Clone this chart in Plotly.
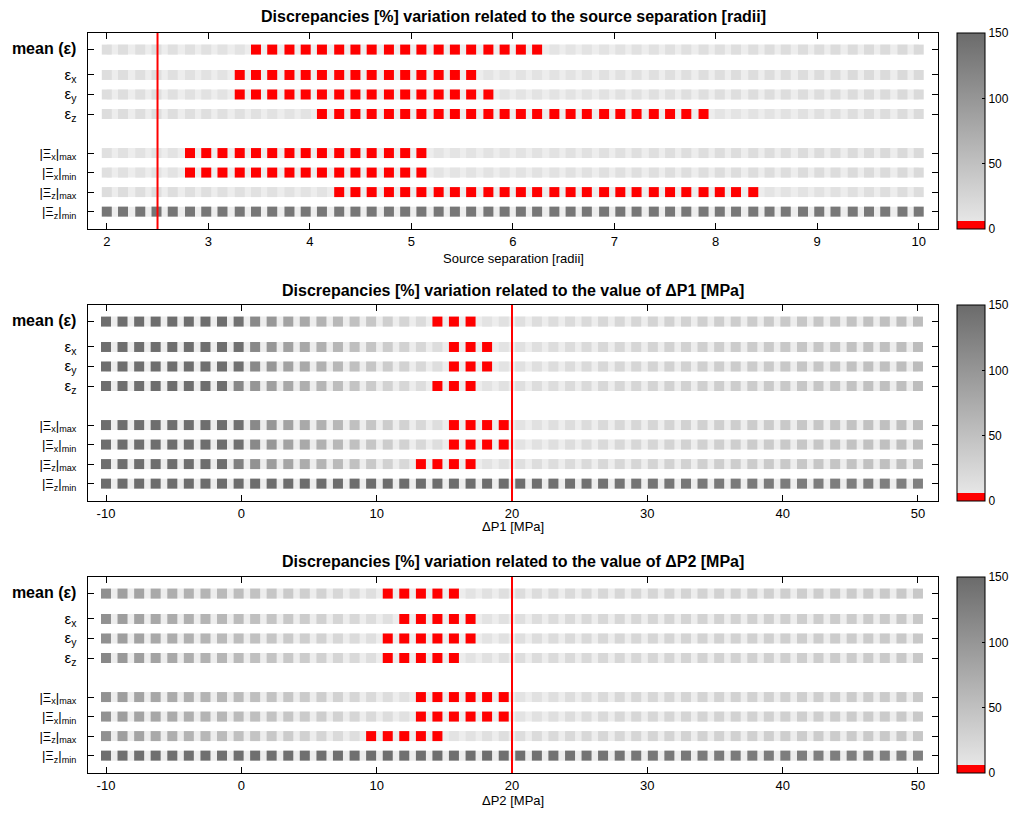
import plotly.graph_objects as go

# ---------------- data ----------------
ROW_LABELS = [
    '<b><span style="font-size:16px">mean (ε)</span></b>',
    '<span style="font-size:15px">ε<sub>x</sub></span>',
    '<span style="font-size:15px">ε<sub>y</sub></span>',
    '<span style="font-size:15px">ε<sub>z</sub></span>',
    '<span style="font-size:13px">|Ξ<sub>x</sub>|<sub>max</sub></span>',
    '<span style="font-size:13px">|Ξ<sub>x</sub>|<sub>min</sub></span>',
    '<span style="font-size:13px">|Ξ<sub>z</sub>|<sub>max</sub></span>',
    '<span style="font-size:13px">|Ξ<sub>z</sub>|<sub>min</sub></span>',
]
ROW_Y = [9.3, 8, 7, 6, 4, 3, 2, 1]

# sweep grids (50 samples each)
SEP_X = [2.00, 2.16, 2.33, 2.49, 2.65, 2.82, 2.98, 3.14, 3.31, 3.47,
         3.63, 3.80, 3.96, 4.12, 4.29, 4.45, 4.61, 4.78, 4.94, 5.10,
         5.27, 5.43, 5.59, 5.76, 5.92, 6.08, 6.24, 6.41, 6.57, 6.73,
         6.90, 7.06, 7.22, 7.39, 7.55, 7.71, 7.88, 8.04, 8.20, 8.37,
         8.53, 8.69, 8.86, 9.02, 9.18, 9.35, 9.51, 9.67, 9.84, 10.00]
DP_X = [-10.00, -8.78, -7.55, -6.33, -5.10, -3.88, -2.65, -1.43, -0.20, 1.02,
        2.24, 3.47, 4.69, 5.92, 7.14, 8.37, 9.59, 10.82, 12.04, 13.27,
        14.49, 15.71, 16.94, 18.16, 19.39, 20.61, 21.84, 23.06, 24.29, 25.51,
        26.73, 27.96, 29.18, 30.41, 31.63, 32.86, 34.08, 35.31, 36.53, 37.76,
        38.98, 40.20, 41.43, 42.65, 43.88, 45.10, 46.33, 47.55, 48.78, 50.00]

# Panel 1: discrepancy [%] vs source separation
P1_MEAN = [15, 15, 14, 14, 13, 13, 12, 11, 9,
           4, 3, 3, 2, 2, 1, 1, 1, 1, 1, 1, 2, 2, 2, 3, 3, 4, 4,
           8, 8, 9, 10, 11, 12, 12, 13, 13, 14, 14, 15, 15, 16, 16, 17, 17, 18, 18, 19, 19, 20, 20]
P1_EX = [15, 15, 14, 14, 13, 12, 11, 9,
         4, 3, 3, 2, 2, 1, 1, 1, 1, 2, 2, 3, 3, 4, 4,
         8, 8, 9, 9, 10, 10, 11, 12, 12, 13, 13, 14, 14, 15, 15, 16, 16, 17, 17, 17, 18, 18, 19, 19, 19, 20, 20]
P1_EY = [15, 15, 14, 14, 13, 12, 11, 9,
         4, 3, 3, 2, 2, 1, 1, 1, 1, 1, 2, 2, 3, 3, 4, 4,
         8, 8, 9, 9, 10, 10, 11, 12, 12, 13, 13, 14, 14, 15, 15, 16, 16, 17, 17, 17, 18, 18, 19, 19, 20, 20]
P1_EZ = [16, 16, 15, 15, 15, 14, 14, 13, 13, 12, 11, 10, 9,
         4, 4, 3, 3, 3, 2, 2, 2, 1, 1, 1, 1, 1, 1, 2, 2, 2, 3, 3, 3, 4, 4, 4, 4,
         8, 8, 9, 10, 11, 12, 13, 14, 15, 16, 17, 18, 19]
P1_XMAX = [13, 12, 11, 10, 9,
           4, 3, 3, 2, 2, 1, 1, 1, 1, 2, 2, 3, 3, 4, 4,
           8, 8, 9, 9, 10, 10, 11, 11, 12, 12, 13, 13, 14, 14, 15, 15, 15, 16, 16, 16, 17, 17, 18, 18, 18, 19, 19, 20, 20, 20]
P1_XMIN = [13, 12, 11, 10, 9,
           4, 3, 3, 2, 2, 1, 1, 1, 1, 2, 2, 3, 3, 4, 4,
           8, 8, 9, 9, 10, 10, 11, 11, 12, 12, 13, 13, 14, 14, 15, 15, 15, 16, 16, 17, 17, 17, 18, 18, 18, 19, 19, 19, 20, 20]
P1_ZMAX = [16, 16, 15, 15, 15, 14, 14, 13, 13, 12, 12, 11, 10, 9,
           4, 4, 3, 3, 3, 2, 2, 2, 1, 1, 1, 1, 1, 1, 1, 2, 2, 2, 2, 3, 3, 3, 4, 4, 4, 4,
           8, 9, 10, 11, 12, 13, 14, 15, 16, 17]
P1_ZMIN = [137, 137, 137, 137, 137, 136, 136, 136, 136, 136,
           136, 136, 136, 136, 136, 136, 136, 136, 136, 136,
           136, 136, 136, 136, 136, 136, 136, 136, 136, 136,
           136, 136, 136, 136, 135, 135, 135, 135, 135, 135,
           135, 135, 135, 135, 135, 135, 135, 135, 135, 135]

# Panel 2: discrepancy [%] vs ΔP1
P2_MEAN = [147, 147, 147, 147, 147, 147, 147, 147, 142, 114, 97, 85, 77, 66, 60, 49, 42, 33, 26, 19,
           3, 1, 4,
           10, 12, 14, 16, 17, 19, 20, 22, 24, 25, 27, 29, 30, 32, 34, 35, 37, 39, 40, 42, 44, 45, 47, 49, 50, 52, 54]
P2_EX = [147, 147, 147, 147, 147, 147, 147, 147, 145, 116, 99, 87, 79, 69, 62, 52, 45, 37, 30, 23, 16,
         2, 1, 4,
         10, 12, 14, 16, 18, 20, 22, 23, 25, 27, 29, 30, 32, 34, 36, 37, 39, 41, 43, 44, 46, 48, 50, 51, 53, 55]
P2_EY = [147, 147, 147, 147, 147, 147, 147, 147, 144, 115, 98, 86, 78, 68, 61, 51, 44, 36, 29, 22, 15,
         3, 1, 4,
         10, 12, 14, 16, 18, 20, 22, 23, 25, 27, 29, 30, 32, 34, 36, 37, 39, 41, 43, 44, 46, 48, 50, 51, 53, 55]
P2_EZ = [147, 147, 147, 147, 147, 147, 147, 145, 117, 100, 88, 79, 70, 62, 54, 46, 38, 30, 23, 17,
         3, 1, 4,
         10, 12, 14, 16, 17, 19, 20, 22, 24, 25, 27, 29, 30, 32, 34, 35, 37, 39, 40, 42, 44, 45, 47, 49, 50, 52, 54]
P2_XMAX = [147, 147, 147, 147, 147, 147, 147, 147, 144, 115, 98, 86, 78, 68, 61, 51, 44, 36, 29, 22, 15,
           3, 1, 2, 4,
           10, 12, 14, 16, 18, 20, 22, 24, 25, 27, 29, 31, 33, 34, 36, 38, 40, 42, 43, 45, 47, 49, 51, 52, 54]
P2_XMIN = [147, 147, 147, 147, 147, 147, 147, 147, 144, 115, 98, 86, 78, 68, 61, 51, 44, 36, 29, 22, 15,
           3, 1, 2, 4,
           10, 12, 14, 16, 18, 20, 22, 24, 25, 27, 29, 31, 33, 34, 36, 38, 40, 42, 43, 45, 47, 49, 51, 52, 54]
P2_ZMAX = [147, 147, 147, 147, 147, 147, 147, 147, 125, 104, 92, 82, 74, 65, 57, 49, 40, 31, 22,
           4, 2, 1, 4,
           10, 12, 14, 16, 17, 19, 20, 22, 24, 25, 27, 29, 30, 32, 34, 35, 37, 39, 40, 42, 44, 45, 47, 49, 50, 52, 54]
P2_ZMIN = [148, 148, 148, 148, 148, 148, 148, 148, 148, 148,
           148, 148, 148, 148, 148, 148, 148, 148, 148, 148,
           148, 148, 148, 148, 148, 146, 145, 144, 143, 142,
           141, 140, 139, 138, 137, 136, 135, 134, 133, 132,
           131, 130, 130, 129, 129, 128, 128, 127, 127, 126]

# Panel 3: discrepancy [%] vs ΔP2
P3_MEAN = [107, 88, 84, 78, 72, 68, 63, 58, 54, 48, 43, 39, 33, 28, 24, 19, 14,
           4, 2, 1, 2, 4,
           10, 12, 14, 16, 18, 19, 20, 21, 22, 23, 24, 25, 26, 27, 28, 29, 30, 31, 32, 33, 34, 35, 36, 37, 38, 39, 40, 41]
P3_EX = [105, 90, 85, 79, 74, 69, 64, 60, 55, 50, 45, 41, 36, 31, 26, 22, 17, 13,
         4, 2, 1, 2, 4,
         10, 12, 14, 16, 18, 20, 21, 22, 23, 24, 25, 26, 27, 28, 29, 30, 31, 32, 33, 34, 35, 36, 37, 38, 39, 40, 41]
P3_EY = [106, 89, 84, 78, 73, 68, 63, 58, 54, 49, 44, 39, 34, 29, 24, 19, 14,
         4, 2, 1, 1, 2, 4,
         10, 12, 14, 16, 18, 20, 21, 22, 23, 24, 25, 26, 27, 28, 29, 30, 31, 32, 33, 34, 35, 36, 37, 38, 39, 40, 41]
P3_EZ = [116, 96, 90, 84, 78, 72, 67, 62, 57, 51, 46, 41, 36, 31, 26, 21, 15,
         4, 2, 1, 2, 4,
         10, 12, 14, 16, 18, 19, 20, 21, 22, 23, 24, 25, 26, 27, 28, 29, 30, 31, 32, 33, 34, 35, 36, 37, 38, 39, 40, 41]
P3_XMAX = [104, 90, 85, 80, 75, 70, 65, 61, 56, 52, 47, 43, 38, 34, 29, 25, 20, 16, 12,
           4, 2, 1, 1, 2, 4,
           10, 12, 14, 16, 18, 20, 22, 23, 24, 25, 26, 27, 28, 29, 30, 31, 32, 33, 34, 35, 36, 37, 38, 39, 40]
P3_XMIN = [104, 90, 85, 80, 75, 70, 65, 61, 56, 52, 47, 43, 38, 34, 29, 25, 20, 16, 12,
           4, 2, 1, 1, 2, 4,
           10, 12, 14, 16, 18, 20, 22, 23, 24, 25, 26, 27, 28, 29, 30, 31, 32, 33, 34, 35, 36, 37, 38, 39, 40]
P3_ZMAX = [106, 89, 83, 77, 71, 66, 61, 56, 51, 46, 41, 36, 31, 26, 20, 15,
           4, 2, 1, 2, 4,
           9, 11, 13, 15, 17, 19, 20, 21, 22, 23, 24, 25, 26, 27, 28, 29, 30, 31, 32, 33, 34, 35, 36, 37, 38, 39, 40, 41, 42]
P3_ZMIN = [145, 145, 145, 145, 145, 145, 145, 145, 145, 145,
           145, 145, 145, 145, 145, 145, 145, 145, 145, 145,
           145, 145, 145, 145, 145, 144, 143, 142, 141, 140,
           139, 138, 137, 136, 135, 134, 133, 132, 131, 130,
           130, 129, 129, 128, 128, 128, 127, 127, 127, 126]

TITLES = [
    "Discrepancies [%] variation related to the source separation [radii]",
    "Discrepancies [%] variation related to the value of ΔP1 [MPa]",
    "Discrepancies [%] variation related to the value of ΔP2 [MPa]",
]
XLABELS = ["Source separation [radii]", "ΔP1 [MPa]", "ΔP2 [MPa]"]
SEP_TICKS = [2, 3, 4, 5, 6, 7, 8, 9, 10]
DP_TICKS = [-10, 0, 10, 20, 30, 40, 50]
VLINES = [2.5, 20, 20]
CB_TICKS = [0, 50, 100, 150]

# ---------------- figure ----------------
W, H = 1010, 814
FONT = "Liberation Sans, Arial, sans-serif"


def px_x(sx):
    return sx / W


def px_y(sy):
    return 1 - sy / H


panels = [
    dict(x=SEP_X, rows=[P1_MEAN, P1_EX, P1_EY, P1_EZ, P1_XMAX, P1_XMIN, P1_ZMAX, P1_ZMIN],
         xrange=[1.815, 10.19], ticks=SEP_TICKS, top=33, bot=229),
    dict(x=DP_X, rows=[P2_MEAN, P2_EX, P2_EY, P2_EZ, P2_XMAX, P2_XMIN, P2_ZMAX, P2_ZMIN],
         xrange=[-11.33, 51.48], ticks=DP_TICKS, top=305, bot=501),
    dict(x=DP_X, rows=[P3_MEAN, P3_EX, P3_EY, P3_EZ, P3_XMAX, P3_XMIN, P3_ZMAX, P3_ZMIN],
         xrange=[-11.33, 51.48], ticks=DP_TICKS, top=577, bot=773),
]
title_y = [16, 290, 561]
xlabel_y = [258, 526, 800]

COLORSCALE = [[0.0, "#ff0000"], [0.04, "#ff0000"], [0.04, "#e6e6e6"], [1.0, "#6b6b6b"]]

fig = go.Figure()
layout = dict(
    width=W, height=H, margin=dict(l=0, r=0, t=0, b=0, autoexpand=False),
    paper_bgcolor="white", plot_bgcolor="white", showlegend=False,
    font=dict(family=FONT, color="black", size=12),
    annotations=[], shapes=[],
)
X0, X1 = 88, 938

for k, p in enumerate(panels):
    sfx = "" if k == 0 else str(k + 1)
    xa, ya, ca = "x" + sfx, "y" + sfx, "coloraxis" + sfx
    for yv, vals in zip(ROW_Y, p["rows"]):
        fig.add_trace(go.Scatter(
            x=[p["x"][0], p["x"][-1]], y=[yv, yv], mode="lines",
            line=dict(color="#ededed", width=10), xaxis=xa, yaxis=ya, hoverinfo="skip"))
        fig.add_trace(go.Scatter(
            x=p["x"], y=[yv] * len(p["x"]), mode="markers",
            marker=dict(symbol="square", size=10, color=vals, coloraxis=ca, line=dict(width=0)),
            xaxis=xa, yaxis=ya))
    dom_y = [px_y(p["bot"]), px_y(p["top"])]
    layout["xaxis" + sfx] = dict(
        domain=[px_x(X0), px_x(X1)], range=p["xrange"], anchor=ya,
        tickvals=p["ticks"], ticktext=[str(t) for t in p["ticks"]],
        ticks="inside", ticklen=6, tickcolor="black", showline=True, linecolor="black",
        linewidth=1, mirror="ticks", showgrid=False, zeroline=False,
        tickfont=dict(size=13, family=FONT))
    layout["yaxis" + sfx] = dict(
        domain=dom_y, range=[0.11, 10.15], anchor=xa,
        tickvals=ROW_Y, ticktext=ROW_LABELS,
        ticks="inside", ticklen=6, tickcolor="black", showline=True, linecolor="black",
        linewidth=1, mirror="ticks", showgrid=False, zeroline=False,
        ticklabelstandoff=8, tickfont=dict(size=13, family=FONT))
    layout[ca] = dict(
        cmin=0, cmax=150, colorscale=COLORSCALE,
        colorbar=dict(
            x=px_x(957), xanchor="left", xpad=0, ypad=0,
            y=(dom_y[0] + dom_y[1]) / 2, yanchor="middle",
            len=dom_y[1] - dom_y[0], lenmode="fraction",
            thickness=28, thicknessmode="pixels",
            outlinewidth=1, outlinecolor="black",
            tickvals=CB_TICKS, ticks="inside", ticklen=3, tickcolor="black",
            tickfont=dict(size=12, family=FONT)))
    layout["shapes"].append(dict(
        type="line", xref=xa, yref=ya + " domain", x0=VLINES[k], x1=VLINES[k], y0=0, y1=1,
        line=dict(color="red", width=2), layer="above"))
    layout["annotations"].append(dict(
        text="<b>" + TITLES[k] + "</b>", xref="paper", yref="paper",
        x=px_x((X0 + X1) / 2), y=px_y(title_y[k]), xanchor="center", yanchor="middle",
        showarrow=False, font=dict(size=16, family=FONT)))
    layout["annotations"].append(dict(
        text=XLABELS[k], xref="paper", yref="paper",
        x=px_x((X0 + X1) / 2), y=px_y(xlabel_y[k]), xanchor="center", yanchor="middle",
        showarrow=False, font=dict(size=13, family=FONT)))

fig.update_layout(**layout)
fig.write_html(
    "out.html",
    config={"displayModeBar": False},
    post_script="document.body.style.margin='0';document.body.style.overflow='hidden';",
)
